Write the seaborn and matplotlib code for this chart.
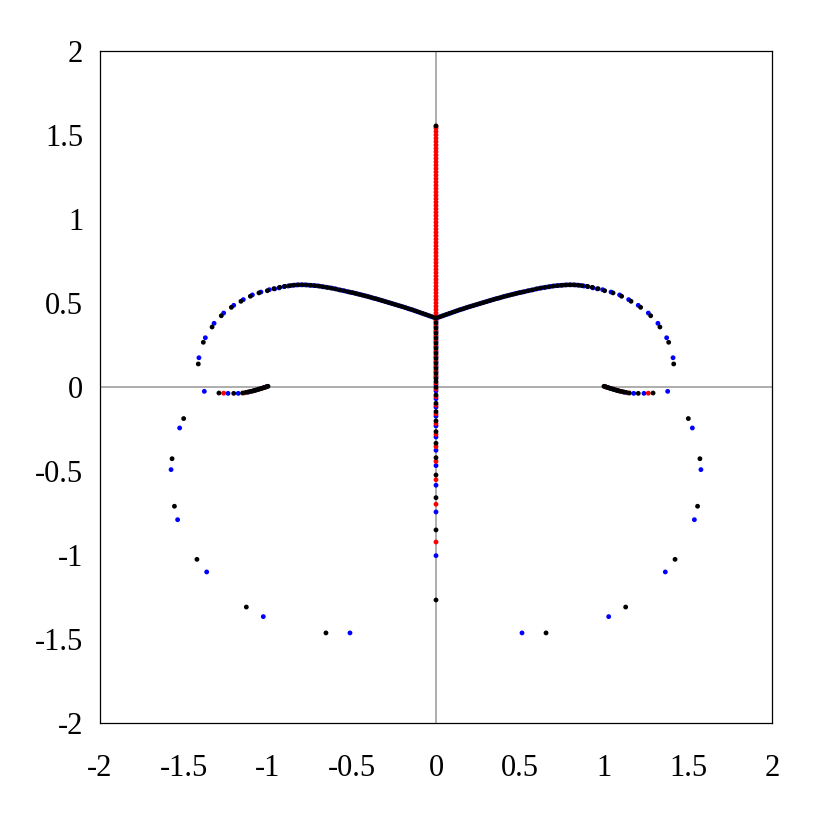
import numpy as np
import pandas as pd
import seaborn as sns
import matplotlib
matplotlib.use("Agg")
import matplotlib.pyplot as plt

# right half of the locus (left half is its mirror image)
black_arc_x = [0.00, 0.02, 0.04, 0.06, 0.08, 0.10, 0.12, 0.14, 0.16, 0.18, 0.20, 0.22, 0.24,
               0.26, 0.28, 0.30, 0.32, 0.34, 0.36, 0.38, 0.40, 0.42, 0.44, 0.46, 0.48, 0.50,
               0.52, 0.545, 0.57, 0.595, 0.62, 0.645, 0.67, 0.695, 0.72, 0.745, 0.77, 0.795,
               0.82, 0.845, 0.87, 0.90, 0.93, 0.965, 1.004, 1.054, 1.105, 1.161, 1.218, 1.278,
               1.333, 1.385, 1.415, 1.502, 1.571, 1.557, 1.423, 1.129, 0.655]
black_arc_y = [0.410, 0.417, 0.424, 0.431, 0.438, 0.445, 0.452, 0.459, 0.465, 0.472, 0.478, 0.484,
               0.490, 0.496, 0.502, 0.508, 0.514, 0.520, 0.526, 0.531, 0.537, 0.542, 0.547, 0.552,
               0.557, 0.562, 0.566, 0.572, 0.577, 0.583, 0.588, 0.592, 0.596, 0.600, 0.603, 0.605,
               0.607, 0.608, 0.608, 0.606, 0.603, 0.599, 0.593, 0.585, 0.573, 0.560, 0.540, 0.510,
               0.474, 0.424, 0.357, 0.266, 0.137, -0.188, -0.427, -0.710, -1.026, -1.310, -1.464]

blue_arc_x = [0.01, 0.03, 0.05, 0.07, 0.09, 0.11, 0.13, 0.15, 0.17, 0.19, 0.21, 0.23, 0.25,
              0.27, 0.29, 0.31, 0.33, 0.35, 0.37, 0.39, 0.41, 0.43, 0.45, 0.47, 0.49, 0.51,
              0.53, 0.555, 0.58, 0.605, 0.63, 0.655, 0.68, 0.705, 0.73, 0.755, 0.78, 0.805,
              0.83, 0.855, 0.88, 0.905, 0.935, 0.96, 0.992, 1.042, 1.093, 1.147, 1.204, 1.264,
              1.321, 1.373, 1.411, 1.526, 1.577, 1.538, 1.365, 1.028, 0.512]
blue_arc_y = [0.413, 0.420, 0.427, 0.434, 0.441, 0.448, 0.455, 0.462, 0.468, 0.475, 0.481, 0.487,
              0.493, 0.499, 0.505, 0.511, 0.517, 0.523, 0.528, 0.534, 0.540, 0.545, 0.550, 0.555,
              0.560, 0.564, 0.568, 0.574, 0.579, 0.585, 0.590, 0.594, 0.598, 0.602, 0.604, 0.606,
              0.608, 0.608, 0.607, 0.605, 0.601, 0.597, 0.590, 0.584, 0.579, 0.565, 0.548, 0.520,
              0.486, 0.440, 0.379, 0.293, 0.174, -0.244, -0.492, -0.790, -1.101, -1.367, -1.464]

# short branch leaving (±1, 0)
black_br_x = [1.000, 1.010, 1.020, 1.030, 1.040, 1.050, 1.060, 1.070, 1.080, 1.090, 1.100,
              1.115, 1.130, 1.151, 1.204, 1.292]
black_br_y = [0.004, 0.001, -0.003, -0.006, -0.009, -0.012, -0.015, -0.018, -0.021, -0.024,
              -0.026, -0.029, -0.032, -0.036, -0.038, -0.036]
red_br_x = [1.012, 1.040, 1.075, 1.105, 1.141, 1.264]
red_br_y = [0.000, -0.009, -0.019, -0.027, -0.035, -0.037]
blue_br_x = [1.006, 1.025, 1.055, 1.085, 1.120, 1.177, 1.238, 1.379]
blue_br_y = [0.002, -0.004, -0.013, -0.022, -0.031, -0.038, -0.038, -0.026]

# points on the imaginary axis
black_axis_y = [1.554, 0.410, 0.380, 0.350, 0.320, 0.290, 0.260, 0.230, 0.200, 0.170, 0.140,
                0.110, 0.080, 0.050, 0.032, -0.002, -0.048, -0.097, -0.147, -0.202,
                -0.266, -0.335, -0.421, -0.524, -0.659, -0.851, -1.268]
red_axis_y = [1.55, 1.54, 1.52, 1.50, 1.48, 1.46, 1.44, 1.42, 1.40, 1.38, 1.36, 1.34, 1.32,
              1.30, 1.28, 1.26, 1.24, 1.22, 1.20, 1.18, 1.16, 1.14, 1.12, 1.10, 1.08, 1.06,
              1.04, 1.02, 1.00, 0.98, 0.96, 0.94, 0.92, 0.90, 0.88, 0.86, 0.84, 0.82, 0.80,
              0.78, 0.76, 0.74, 0.72, 0.70, 0.68, 0.66, 0.64, 0.62, 0.60, 0.58, 0.56, 0.54,
              0.52, 0.50, 0.48, 0.46, 0.44, 0.42,
              0.398, 0.368, 0.338, 0.308, 0.278, 0.248, 0.218, 0.188, 0.158, 0.128, 0.098,
              0.068, 0.022, -0.012, -0.058, -0.108, -0.160, -0.218, -0.282, -0.355, -0.443,
              -0.552, -0.698, -0.923]
blue_axis_y = [0.389, 0.359, 0.329, 0.299, 0.269, 0.239, 0.209, 0.179, 0.149, 0.119, 0.089,
               0.059, 0.012, -0.024, -0.070, -0.120, -0.174, -0.232, -0.298, -0.377, -0.468,
               -0.585, -0.744, -1.004]

ticks = [-2, -1.5, -1, -0.5, 0, 0.5, 1, 1.5, 2]
tick_labels = ["-2", "-1.5", "-1", "-0.5", "0", "0.5", "1", "1.5", "2"]


def series(name, xs, ys, axis_y):
    xs = np.asarray(xs)
    ys = np.asarray(ys)
    x = np.concatenate([xs, -xs, np.zeros(len(axis_y))])
    y = np.concatenate([ys, ys, axis_y])
    return pd.DataFrame({"x": x, "y": y, "series": name})


# draw order: blue under red under black
df = pd.concat([
    series("blue", blue_arc_x + blue_br_x, blue_arc_y + blue_br_y, blue_axis_y),
    series("red", red_br_x, red_br_y, red_axis_y),
    series("black", black_arc_x + black_br_x, black_arc_y + black_br_y, black_axis_y),
], ignore_index=True)

sns.set_style("white")
plt.rcParams["font.family"] = ["Liberation Serif", "DejaVu Serif"]
plt.rcParams["text.color"] = "black"
plt.rcParams["xtick.color"] = "black"
plt.rcParams["ytick.color"] = "black"

fig = plt.figure(figsize=(8.17, 8.17), dpi=100)
ax = fig.add_axes([0.1224, 0.1151, 0.8225, 0.8225])
ax.axhline(0, color="#a0a0a0", lw=1.2, zorder=1)
ax.axvline(0, color="#a0a0a0", lw=1.2, zorder=1)

sns.scatterplot(data=df, x="x", y="y", hue="series",
                palette={"black": "black", "blue": "#0000ff", "red": "#ff0000"},
                s=12, linewidth=0, legend=False, ax=ax, zorder=3)

ax.set_xlim(-2, 2)
ax.set_ylim(-2, 2)
ax.set_xticks(ticks)
ax.set_xticklabels(tick_labels)
ax.set_yticks(ticks)
ax.set_yticklabels(tick_labels)
ax.tick_params(axis="both", length=0, labelsize=22, labelcolor="black")
ax.tick_params(axis="x", pad=22)
ax.tick_params(axis="y", pad=12)
ax.set_xlabel("")
ax.set_ylabel("")
for sp in ax.spines.values():
    sp.set_color("black")
    sp.set_linewidth(0.9)

plt.savefig("out.png", dpi=100)
